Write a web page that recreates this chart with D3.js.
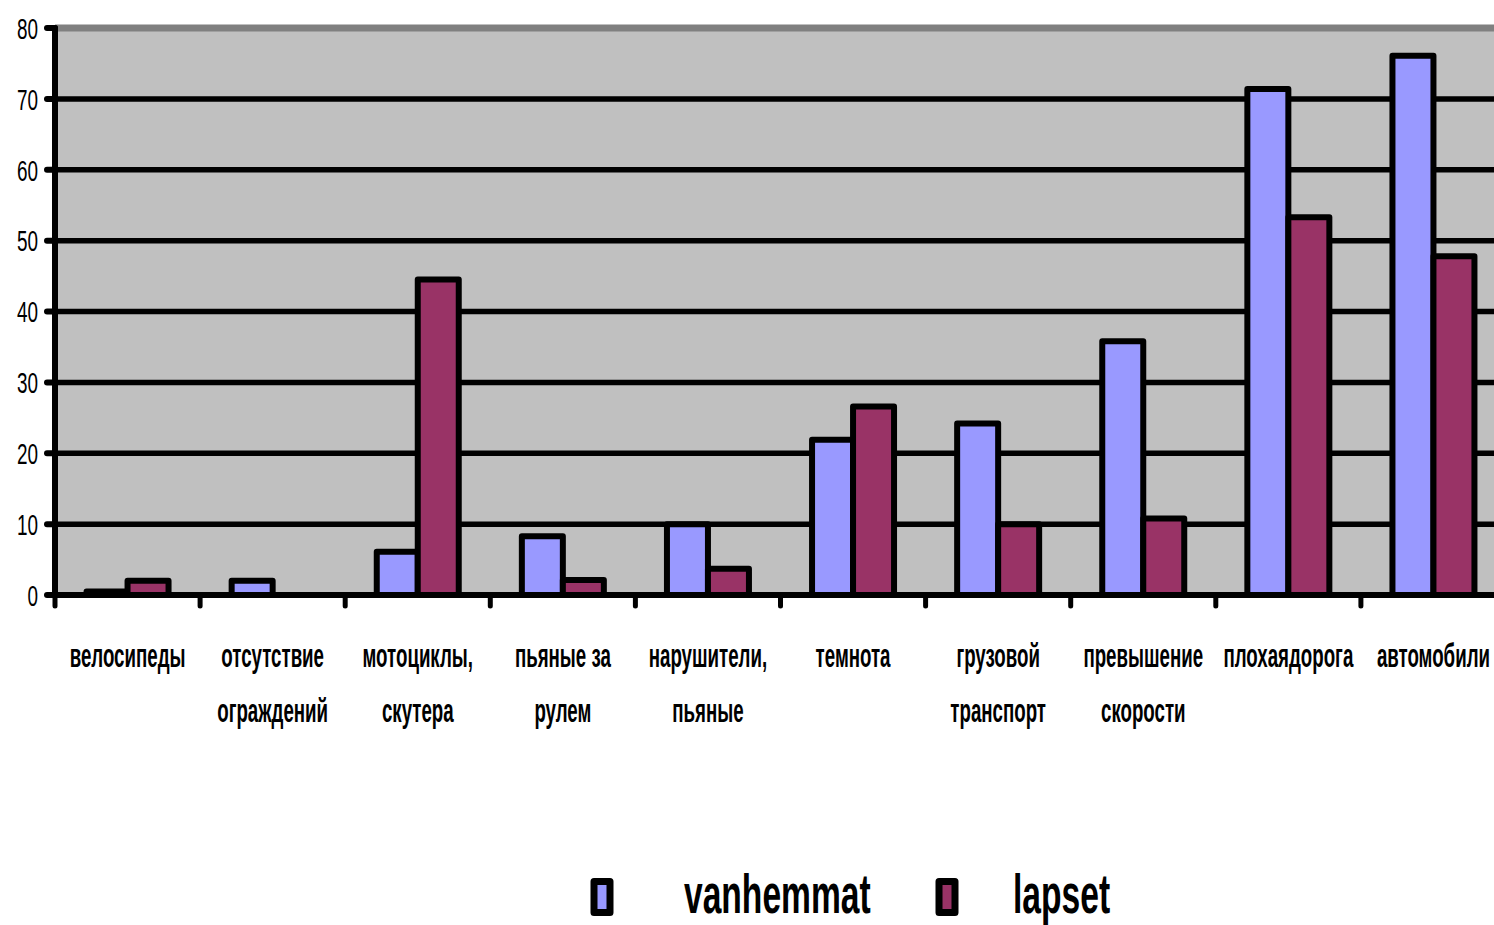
<!DOCTYPE html>
<html><head><meta charset="utf-8">
<script src="https://cdn.jsdelivr.net/npm/d3@7"></script>
<style>html,body{margin:0;padding:0;background:#fff;overflow:hidden}</style>
</head><body>
<svg id="chart" width="1494" height="925"></svg>
<script>
const categories = ["велосипеды","отсутствие\nограждений","мотоциклы,\nскутера","пьяные за\nрулем","нарушители,\nпьяные","темнота","грузовой\nтранспорт","превышение\nскорости","плохаядорога","автомобили"];
const seriesNames = ["vanhemmat","lapset"];
const vanhemmat = [0.5, 2, 6.1, 8.3, 10, 21.9, 24.2, 35.8, 71.4, 76.1];
const lapset = [2, 0, 44.5, 2.1, 3.7, 26.6, 10, 10.8, 53.3, 47.8];
const yTicks = [0,10,20,30,40,50,60,70,80];
const colors = ["#9999FF","#993366"];

(function(){
const svg = d3.select("#chart");
const pLeft = 55, pTop = 28, pBottom = 595, step = 145.1;
const x = d3.scaleBand().domain(categories).range([pLeft, pLeft + step*categories.length]).paddingInner(0).paddingOuter(0);
const xs = d3.scaleBand().domain(seriesNames).range([0, 82]);
const y = d3.scaleLinear().domain([0,80]).range([pBottom, pTop]);

svg.append("rect").attr("x", pLeft).attr("y", pTop).attr("width", 1494-pLeft).attr("height", pBottom-pTop).attr("fill","#C0C0C0");
svg.append("line").attr("x1", pLeft).attr("x2", 1494).attr("y1", pTop).attr("y2", pTop).attr("stroke","#808080").attr("stroke-width",7);
svg.append("g").selectAll("line").data(yTicks.filter(d=>d>0&&d<80)).join("line")
  .attr("x1", pLeft).attr("x2", 1494).attr("y1", d=>y(d)).attr("y2", d=>y(d))
  .attr("stroke","#000").attr("stroke-width",5.5);

const data = categories.map((c,i)=>({c, vals:[vanhemmat[i], lapset[i]]}));
const g = svg.append("g");
data.forEach(d=>{
  const x0 = x(d.c) + (x.bandwidth()-82)/2;
  d.vals.forEach((v,j)=>{
    if (v<=0) return;
    g.append("rect").attr("x", x0 + xs(seriesNames[j])).attr("y", y(v))
      .attr("width", xs.bandwidth()).attr("height", pBottom - y(v))
      .attr("fill", colors[j]).attr("stroke","#000").attr("stroke-width",6).attr("stroke-linejoin","round");
  });
});

svg.append("line").attr("x1", pLeft).attr("x2", pLeft).attr("y1", pTop).attr("y2", pBottom)
  .attr("stroke","#000").attr("stroke-width",6).attr("stroke-linecap","round");
svg.append("line").attr("x1", pLeft-8).attr("x2", 1494).attr("y1", pBottom).attr("y2", pBottom)
  .attr("stroke","#000").attr("stroke-width",6);
svg.append("g").selectAll("line").data(yTicks).join("line")
  .attr("x1", pLeft-8).attr("x2", pLeft).attr("y1", d=>y(d)).attr("y2", d=>y(d))
  .attr("stroke","#000").attr("stroke-width",6).attr("stroke-linecap","round");
const bounds = d3.range(categories.length).map(i=>x(categories[i]));
svg.append("g").selectAll("line").data(bounds).join("line")
  .attr("x1", d=>d).attr("x2", d=>d).attr("y1", pBottom).attr("y2", pBottom+11)
  .attr("stroke","#000").attr("stroke-width",5).attr("stroke-linecap","round");

svg.append("g").selectAll("text").data(yTicks).join("text")
  .attr("transform", d=>`translate(38,${y(d)}) scale(0.63,1)`)
  .attr("text-anchor","end").attr("dominant-baseline","central")
  .attr("font-family","Liberation Sans, Arial, sans-serif").attr("font-size",30)
  .attr("fill","#000").text(d=>d);

const xl = svg.append("g");
categories.forEach(c=>{
  const cx = x(c) + x.bandwidth()/2;
  c.split("\n").forEach((line,k)=>{
    xl.append("text").attr("transform", `translate(${cx},${667 + k*55}) scale(0.55,1)`)
      .attr("text-anchor","middle").attr("font-family","Liberation Sans, Arial, sans-serif")
      .attr("font-weight","bold").attr("font-size",34).attr("fill","#000").text(line);
  });
});

const legX = [602, 947], legTextX = [684, 1013];
seriesNames.forEach((s,j)=>{
  svg.append("rect").attr("x", legX[j]-8).attr("y", 881.5).attr("width",16).attr("height",31)
    .attr("fill", colors[j]).attr("stroke","#000").attr("stroke-width",7).attr("stroke-linejoin","round");
  svg.append("text").attr("transform", `translate(${legTextX[j]},913) scale(0.6,1)`)
    .attr("font-family","Liberation Sans, Arial, sans-serif").attr("font-weight","bold")
    .attr("font-size",56).attr("fill","#000").text(s);
});
})();
</script>
</body></html>
